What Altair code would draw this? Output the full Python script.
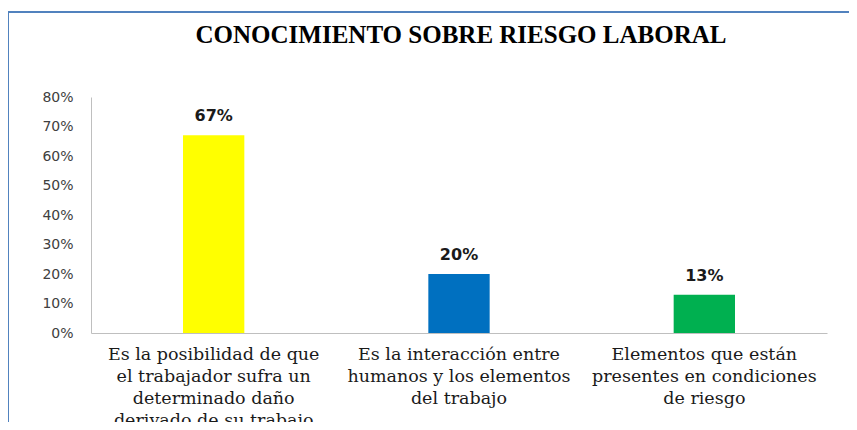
import altair as alt
import pandas as pd

categories = [
    "Es la posibilidad de que|el trabajador sufra un|determinado daño|derivado de su trabajo",
    "Es la interacción entre|humanos y los elementos|del trabajo",
    "Elementos que están|presentes en condiciones|de riesgo",
]
values = [0.67, 0.20, 0.13]
colors = ["#ffff00", "#0070c0", "#00b050"]
y_ticks = [0, 0.1, 0.2, 0.3, 0.4, 0.5, 0.6, 0.7, 0.8]
title_text = "CONOCIMIENTO SOBRE RIESGO LABORAL"

df = pd.DataFrame({"cat": categories, "val": values, "color": colors})

W, H = 736, 236

x = alt.X(
    "cat:N",
    sort=None,
    title=None,
    scale=alt.Scale(paddingInner=0.75, paddingOuter=0.375),
    axis=alt.Axis(
        labelAngle=0,
        labelExpr="split(datum.label, '|')",
        labelFont="DejaVu Serif",
        labelFontSize=17.5,
        labelColor="#1a1a1a",
        labelLineHeight=22,
        labelBaseline="top",
        labelPadding=12,
        ticks=False,
        domainColor="#bfbfbf",
        domainWidth=1,
        labelLimit=400,
    ),
)
y = alt.Y(
    "val:Q",
    title=None,
    scale=alt.Scale(domain=[0, 0.8], nice=False),
    axis=alt.Axis(
        values=y_ticks,
        format=".0%",
        grid=False,
        ticks=False,
        labelFont="DejaVu Sans",
        labelFontSize=14,
        labelColor="#404040",
        labelPadding=18,
        domainColor="#bfbfbf",
        domainWidth=1,
    ),
)

bars = alt.Chart(df).mark_bar().encode(
    x=x, y=y, color=alt.Color("color:N", scale=None)
)
labels = alt.Chart(df).mark_text(
    baseline="bottom",
    dy=-11,
    font="DejaVu Sans",
    fontSize=16,
    fontWeight="bold",
    color="#1a1a1a",
).encode(x=x, y=y, text=alt.Text("val:Q", format=".0%"))

title_df = pd.DataFrame({"t": [title_text]})
title = alt.Chart(title_df).mark_text(
    font="Liberation Serif",
    fontSize=25,
    fontWeight="bold",
    color="#000000",
    align="center",
    baseline="alphabetic",
).encode(x=alt.value(W / 2 + 2), y=alt.value(-54), text="t:N")

border_left = alt.Chart(df).mark_rule(color="#4f81bd", strokeWidth=1.5).encode(
    x=alt.value(-83), y=alt.value(-85), y2=alt.value(H + 120)
)
border_top = alt.Chart(df).mark_rule(color="#4f81bd", strokeWidth=1.5).encode(
    x=alt.value(-83), x2=alt.value(W + 40), y=alt.value(-85)
)

chart = (
    alt.layer(bars, labels, title, border_left, border_top)
    .properties(
        width=W,
        height=H,
        autosize=alt.AutoSizeParams(type="none"),
        padding={"left": 83, "top": 89, "right": 22, "bottom": 89},
        background="#ffffff",
    )
    .configure_view(strokeWidth=0)
)

chart.save("out.html", embed_options={"renderer": "svg", "actions": False})
